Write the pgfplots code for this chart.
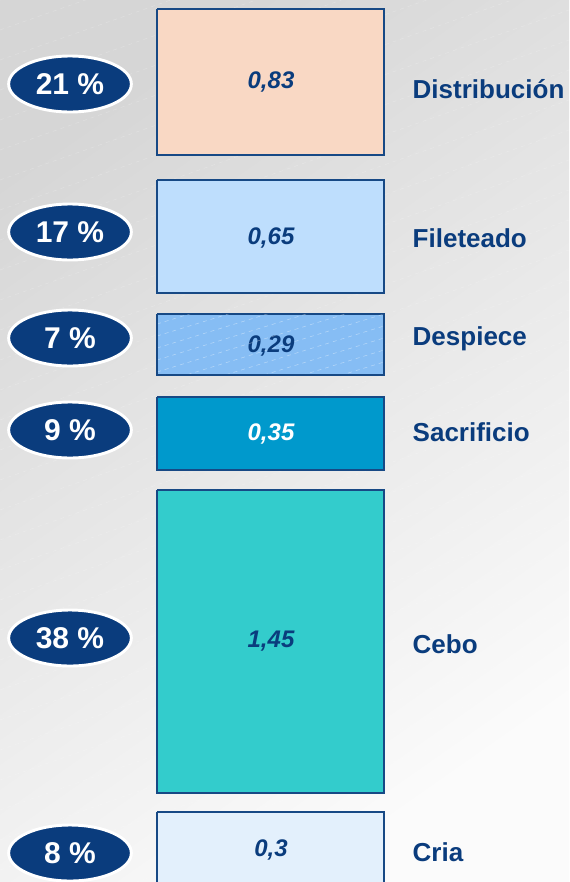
\documentclass[border=0pt]{standalone}
\usepackage{pgfplots}
\pgfplotsset{compat=1.18}
\usepackage{fontspec}
\setmainfont{Liberation Sans}
\usetikzlibrary{shapes.geometric}
\definecolor{navy}{HTML}{0A3C7D}
\definecolor{boxline}{HTML}{174985}
\definecolor{bgA}{HTML}{D6D6D6}
\definecolor{bgB}{HTML}{FBFBFB}
\definecolor{cDist}{HTML}{F9D8C4}
\definecolor{cFile}{HTML}{BEDEFD}
\definecolor{cDesp}{HTML}{86BDF4}
\definecolor{cSacr}{HTML}{0099CC}
\definecolor{cCebo}{HTML}{33CCCC}
\definecolor{cCria}{HTML}{E3F0FC}
\tikzset{
  pct/.style={ellipse, fill=navy, draw=white, line width=2.2pt, inner sep=0pt,
    minimum width=92pt, minimum height=42pt, text=white, font=\fontsize{22.5}{22.5}\selectfont\bfseries},
  val/.style={text=navy, font=\fontsize{18}{18}\selectfont\bfseries\itshape},
  lab/.style={anchor=west, text=navy, font=\fontsize{19.5}{19.5}\selectfont\bfseries}
}
\begin{document}
\begin{tikzpicture}
\begin{scope}[x=0.75pt, y=-0.75pt, yshift=661.5pt]
\shade[top color=bgA, bottom color=bgB, shading angle=35] (0,0) rectangle (569,882);
\begin{scope}
\clip (0,0) rectangle (569,882);
\foreach \k in {0,...,40} {
  \draw[white, opacity=0.22, line width=0.4pt, dashed] (0,\k*30) -- (569,\k*30-200);
}
\end{scope}
\end{scope}
\begin{axis}[scale only axis, width=426.75pt, height=661.5pt,
  xmin=0, xmax=569, ymin=0, ymax=882, y dir=reverse, hide axis, clip=true]
% boxes: (x, pixel y) of each rectangle
\addplot[draw=boxline, line width=1.4pt, fill=cDist] coordinates {(157,9) (384,9) (384,155) (157,155) (157,9)};
\addplot[draw=boxline, line width=1.4pt, fill=cFile] coordinates {(157,180) (384,180) (384,293) (157,293) (157,180)};
\addplot[draw=boxline, line width=1.4pt, fill=cDesp] coordinates {(157,314) (384,314) (384,375) (157,375) (157,314)};
\addplot[draw=boxline, line width=1.4pt, fill=cSacr] coordinates {(157,397) (384,397) (384,470) (157,470) (157,397)};
\addplot[draw=boxline, line width=1.4pt, fill=cCebo] coordinates {(157,490) (384,490) (384,793) (157,793) (157,490)};
\addplot[draw=boxline, line width=1.4pt, fill=cCria] coordinates {(157,812) (384,812) (384,905) (157,905) (157,812)};
% values
\node[val] at (axis cs:271,82) {0,83};
\node[val] at (axis cs:271,238) {0,65};
\node[val] at (axis cs:271,346) {0,29};
\node[val, text=white] at (axis cs:271,434) {0,35};
\node[val] at (axis cs:271,641) {1,45};
\node[val] at (axis cs:271,850) {0,3};
% labels
\node[lab] at (axis cs:408,89) {Distribución};
\node[lab] at (axis cs:408,238) {Fileteado};
\node[lab] at (axis cs:408,339) {Despiece};
\node[lab] at (axis cs:408,432) {Sacrificio};
\node[lab] at (axis cs:408,644) {Cebo};
\node[lab] at (axis cs:408,852) {Cria};
% percentages
\node[pct] at (axis cs:70,84) {21 \%};
\node[pct] at (axis cs:70,232) {17 \%};
\node[pct] at (axis cs:70,338) {7 \%};
\node[pct] at (axis cs:70,430) {9 \%};
\node[pct] at (axis cs:70,638) {38 \%};
\node[pct] at (axis cs:70,853) {8 \%};
\end{axis}
\begin{scope}[x=0.75pt, y=-0.75pt, yshift=661.5pt]
\begin{scope}
\clip (158,315) rectangle (383,374);
\foreach \k in {0,...,12} {
  \draw[white, opacity=0.4, line width=0.4pt, dashed] (157,300+\k*12) -- (384,300+\k*12-70);
}
\end{scope}
\end{scope}
\end{tikzpicture}
\end{document}
